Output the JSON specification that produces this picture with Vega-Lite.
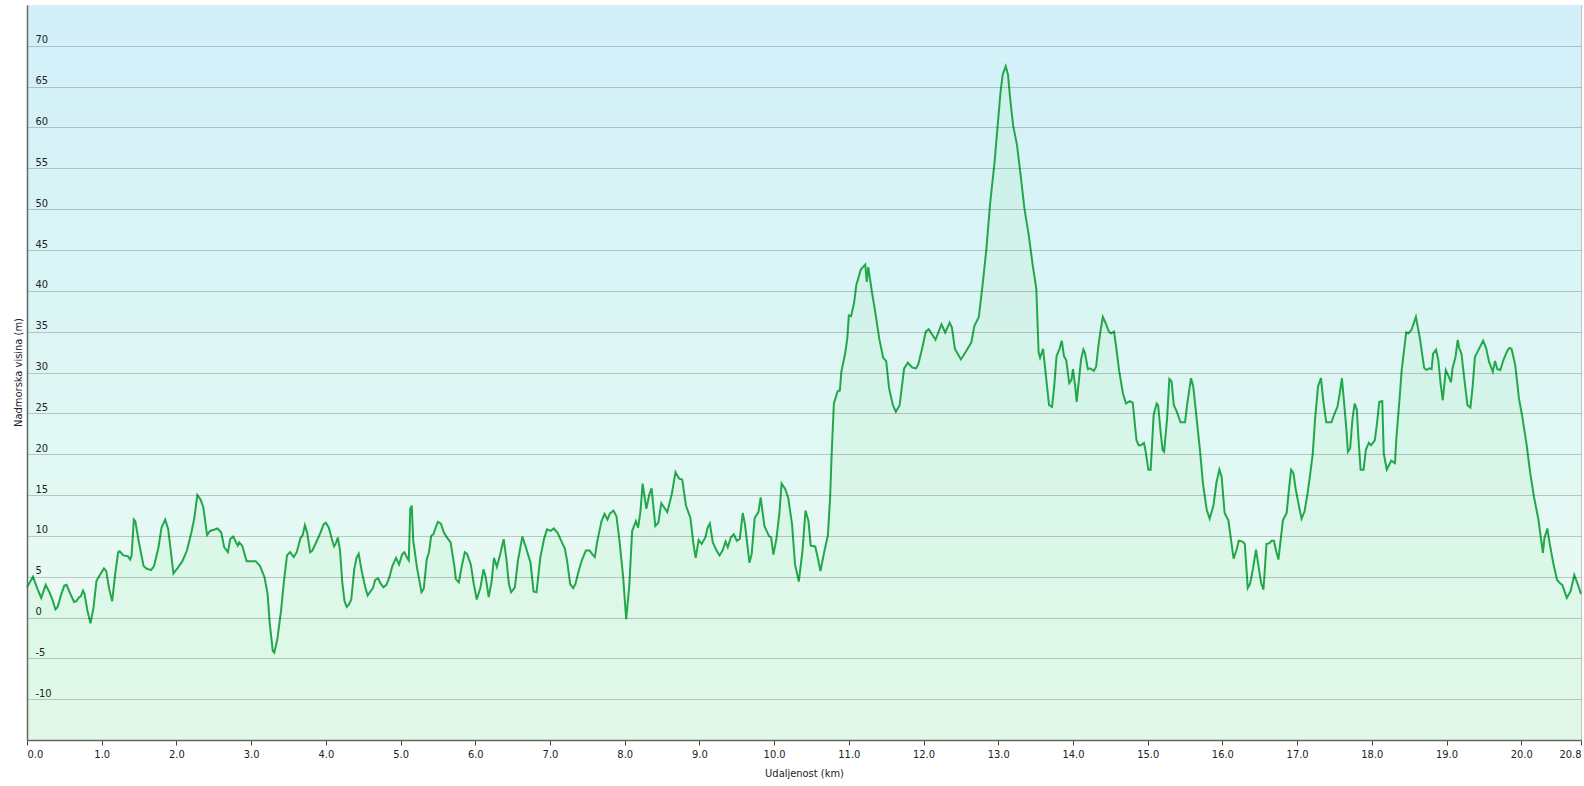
{
  "$schema": "https://vega.github.io/schema/vega-lite/v6.json",
  "autosize": {"type": "none"},
  "padding": {"left": 27, "top": 5, "right": 3, "bottom": 46},
  "width": 1554,
  "height": 735,
  "background": "#ffffff",
  "config": {
    "view": {"stroke": "#c4c4c4", "strokeWidth": 1, "fill": "#e1f5f5"},
    "font": "DejaVu Sans Condensed",
    "axis": {"labelFont": "DejaVu Sans Condensed", "titleFont": "DejaVu Sans Condensed", "labelColor": "#222222", "titleColor": "#222222", "labelFontSize": 11, "titleFontSize": 11, "titleFontWeight": "normal"}
  },
  "datasets": {
    "bands": [
{"b0":-15,"b1":-10},{"b0":-10,"b1":-5},{"b0":-5,"b1":0},{"b0":0,"b1":5},{"b0":5,"b1":10},{"b0":10,"b1":15},{"b0":15,"b1":20},{"b0":20,"b1":25},{"b0":25,"b1":30},{"b0":30,"b1":35},{"b0":35,"b1":40},{"b0":40,"b1":45},{"b0":45,"b1":50},{"b0":50,"b1":55},{"b0":55,"b1":60},{"b0":60,"b1":65},{"b0":65,"b1":70},{"b0":70,"b1":75}
    ],
    "profile": [
{"d":0.0,"h":3.7},{"d":0.08,"h":5.0},{"d":0.14,"h":3.5},{"d":0.19,"h":2.4},{"d":0.25,"h":4.0},{"d":0.30,"h":3.1},{"d":0.34,"h":2.2},{"d":0.38,"h":1.0},{"d":0.41,"h":1.3},{"d":0.46,"h":2.9},{"d":0.50,"h":3.9},{"d":0.53,"h":4.0},{"d":0.57,"h":3.1},{"d":0.63,"h":1.9},{"d":0.66,"h":2.0},{"d":0.70,"h":2.5},{"d":0.72,"h":2.6},{"d":0.75,"h":3.3},{"d":0.77,"h":2.9},{"d":0.81,"h":0.8},{"d":0.85,"h":-0.7},{"d":0.89,"h":1.2},{"d":0.93,"h":4.5},{"d":0.97,"h":5.1},{"d":1.03,"h":6.0},{"d":1.06,"h":5.7},{"d":1.10,"h":3.5},{"d":1.14,"h":2.0},{"d":1.18,"h":5.3},{"d":1.22,"h":8.0},{"d":1.24,"h":8.1},{"d":1.29,"h":7.6},{"d":1.35,"h":7.5},{"d":1.38,"h":7.1},{"d":1.40,"h":7.6},{"d":1.43,"h":12.0},{"d":1.45,"h":11.8},{"d":1.49,"h":9.6},{"d":1.56,"h":6.3},{"d":1.60,"h":6.0},{"d":1.66,"h":5.8},{"d":1.70,"h":6.3},{"d":1.76,"h":8.6},{"d":1.80,"h":11.0},{"d":1.85,"h":12.0},{"d":1.89,"h":10.8},{"d":1.96,"h":5.4},{"d":2.02,"h":6.1},{"d":2.08,"h":6.9},{"d":2.14,"h":8.2},{"d":2.20,"h":10.4},{"d":2.24,"h":12.2},{"d":2.28,"h":15.0},{"d":2.32,"h":14.5},{"d":2.36,"h":13.5},{"d":2.41,"h":10.1},{"d":2.45,"h":10.6},{"d":2.52,"h":10.8},{"d":2.55,"h":10.9},{"d":2.60,"h":10.4},{"d":2.64,"h":8.6},{"d":2.69,"h":8.0},{"d":2.72,"h":9.6},{"d":2.76,"h":9.9},{"d":2.82,"h":8.8},{"d":2.84,"h":9.2},{"d":2.88,"h":8.8},{"d":2.94,"h":6.9},{"d":3.01,"h":6.9},{"d":3.06,"h":6.9},{"d":3.12,"h":6.3},{"d":3.18,"h":4.9},{"d":3.22,"h":2.9},{"d":3.25,"h":-0.8},{"d":3.29,"h":-4.1},{"d":3.31,"h":-4.3},{"d":3.35,"h":-2.7},{"d":3.40,"h":0.8},{"d":3.44,"h":4.5},{"d":3.48,"h":7.6},{"d":3.52,"h":8.0},
{"d":3.57,"h":7.4},{"d":3.61,"h":8.0},{"d":3.66,"h":9.7},{"d":3.69,"h":10.1},{"d":3.72,"h":11.3},{"d":3.75,"h":10.4},{"d":3.79,"h":8.0},{"d":3.82,"h":8.2},{"d":3.88,"h":9.4},{"d":3.92,"h":10.2},{"d":3.97,"h":11.4},{"d":4.00,"h":11.6},{"d":4.04,"h":11.0},{"d":4.08,"h":9.6},{"d":4.11,"h":8.7},{"d":4.13,"h":9.0},{"d":4.16,"h":9.8},{"d":4.19,"h":8.2},{"d":4.22,"h":4.3},{"d":4.25,"h":2.0},{"d":4.28,"h":1.3},{"d":4.31,"h":1.6},{"d":4.34,"h":2.2},{"d":4.38,"h":5.9},{"d":4.41,"h":7.3},{"d":4.44,"h":7.8},{"d":4.48,"h":5.7},{"d":4.53,"h":3.6},{"d":4.56,"h":2.7},{"d":4.59,"h":3.1},{"d":4.63,"h":3.6},{"d":4.66,"h":4.6},{"d":4.70,"h":4.8},{"d":4.73,"h":4.2},{"d":4.77,"h":3.7},{"d":4.81,"h":4.0},{"d":4.85,"h":4.9},{"d":4.89,"h":6.3},{"d":4.94,"h":7.3},{"d":4.98,"h":6.5},{"d":5.02,"h":7.7},{"d":5.05,"h":8.0},{"d":5.09,"h":7.3},{"d":5.11,"h":7.0},{"d":5.13,"h":13.3},{"d":5.15,"h":13.7},{"d":5.17,"h":9.4},{"d":5.22,"h":6.1},{"d":5.28,"h":3.1},{"d":5.31,"h":3.5},{"d":5.35,"h":7.1},{"d":5.38,"h":8.0},{"d":5.41,"h":10.0},{"d":5.44,"h":10.2},{"d":5.47,"h":11.0},{"d":5.50,"h":11.7},{"d":5.54,"h":11.5},{"d":5.58,"h":10.4},{"d":5.62,"h":9.8},{"d":5.67,"h":9.2},{"d":5.72,"h":6.3},{"d":5.74,"h":4.7},{"d":5.78,"h":4.3},{"d":5.82,"h":6.3},{"d":5.86,"h":8.0},{"d":5.89,"h":7.8},{"d":5.94,"h":6.5},{"d":5.98,"h":4.1},{"d":6.02,"h":2.2},{"d":6.07,"h":3.7},{"d":6.11,"h":5.9},{"d":6.14,"h":4.9},{"d":6.18,"h":2.5},{"d":6.22,"h":4.5},{"d":6.25,"h":7.3},{"d":6.29,"h":6.2},{"d":6.34,"h":8.0},{"d":6.38,"h":9.6},{"d":6.42,"h":6.9},{"d":6.45,"h":4.1},{"d":6.48,"h":3.1},{"d":6.53,"h":3.7},{"d":6.57,"h":6.9},{"d":6.63,"h":9.9},{"d":6.67,"h":8.8},{"d":6.74,"h":6.7},{"d":6.78,"h":3.2},{"d":6.82,"h":3.1},{"d":6.87,"h":7.3},{"d":6.92,"h":9.6},{"d":6.96,"h":10.8},{"d":7.01,"h":10.6},
{"d":7.05,"h":10.9},{"d":7.10,"h":10.4},{"d":7.14,"h":9.6},{"d":7.20,"h":8.4},{"d":7.23,"h":6.9},{"d":7.27,"h":4.1},{"d":7.31,"h":3.6},{"d":7.34,"h":4.1},{"d":7.39,"h":5.9},{"d":7.43,"h":7.1},{"d":7.48,"h":8.2},{"d":7.53,"h":8.2},{"d":7.57,"h":7.7},{"d":7.60,"h":7.4},{"d":7.63,"h":9.2},{"d":7.69,"h":11.8},{"d":7.73,"h":12.7},{"d":7.77,"h":12.0},{"d":7.80,"h":12.7},{"d":7.85,"h":13.1},{"d":7.89,"h":12.4},{"d":7.93,"h":9.4},{"d":7.98,"h":4.9},{"d":8.02,"h":-0.2},{"d":8.06,"h":3.7},{"d":8.10,"h":10.6},{"d":8.15,"h":11.8},{"d":8.18,"h":11.0},{"d":8.21,"h":12.9},{"d":8.24,"h":16.4},{"d":8.29,"h":13.3},{"d":8.33,"h":15.1},{"d":8.36,"h":15.8},{"d":8.41,"h":11.2},{"d":8.45,"h":11.6},{"d":8.49,"h":14.0},{"d":8.57,"h":12.9},{"d":8.63,"h":15.1},{"d":8.68,"h":17.8},{"d":8.73,"h":17.0},{"d":8.77,"h":16.9},{"d":8.82,"h":13.7},{"d":8.88,"h":12.2},{"d":8.92,"h":9.0},{"d":8.95,"h":7.3},{"d":8.99,"h":9.5},{"d":9.03,"h":9.0},{"d":9.08,"h":9.8},{"d":9.11,"h":11.0},{"d":9.14,"h":11.5},{"d":9.18,"h":9.2},{"d":9.23,"h":8.2},{"d":9.27,"h":7.6},{"d":9.31,"h":8.2},{"d":9.35,"h":9.3},{"d":9.38,"h":8.6},{"d":9.42,"h":9.8},{"d":9.46,"h":10.2},{"d":9.50,"h":9.4},{"d":9.54,"h":9.6},{"d":9.58,"h":12.8},{"d":9.61,"h":11.4},{"d":9.67,"h":6.7},{"d":9.70,"h":7.8},{"d":9.74,"h":12.2},{"d":9.79,"h":12.9},{"d":9.82,"h":14.7},{"d":9.87,"h":11.2},{"d":9.93,"h":10.0},{"d":9.96,"h":9.8},{"d":9.99,"h":7.7},{"d":10.03,"h":9.6},{"d":10.07,"h":12.7},{"d":10.10,"h":16.4},{"d":10.15,"h":15.7},{"d":10.19,"h":14.6},{"d":10.24,"h":11.4},{"d":10.28,"h":6.5},{"d":10.33,"h":4.4},{"d":10.38,"h":8.2},{"d":10.42,"h":13.1},
{"d":10.46,"h":11.8},{"d":10.49,"h":8.8},{"d":10.55,"h":8.7},{"d":10.58,"h":7.5},{"d":10.62,"h":5.7},{"d":10.67,"h":8.0},{"d":10.72,"h":10.1},{"d":10.75,"h":14.8},{"d":10.77,"h":20.0},{"d":10.80,"h":26.2},{"d":10.85,"h":27.7},{"d":10.88,"h":27.8},{"d":10.90,"h":30.1},{"d":10.95,"h":32.3},{"d":10.98,"h":34.2},{"d":11.00,"h":37.0},{"d":11.03,"h":36.9},{"d":11.07,"h":38.5},{"d":11.10,"h":40.7},{"d":11.16,"h":42.6},{"d":11.22,"h":43.2},{"d":11.24,"h":41.1},{"d":11.26,"h":42.9},{"d":11.31,"h":39.8},{"d":11.35,"h":37.6},{"d":11.41,"h":34.0},{"d":11.46,"h":31.8},{"d":11.50,"h":31.4},{"d":11.54,"h":28.0},{"d":11.59,"h":26.0},{"d":11.63,"h":25.2},{"d":11.68,"h":26.0},{"d":11.74,"h":30.5},{"d":11.79,"h":31.2},{"d":11.85,"h":30.6},{"d":11.90,"h":30.5},{"d":11.93,"h":31.0},{"d":11.98,"h":32.9},{"d":12.03,"h":35.0},{"d":12.07,"h":35.3},{"d":12.16,"h":34.0},{"d":12.24,"h":35.9},{"d":12.29,"h":34.9},{"d":12.35,"h":36.1},{"d":12.38,"h":35.5},{"d":12.42,"h":32.9},{"d":12.50,"h":31.6},{"d":12.57,"h":32.6},{"d":12.64,"h":33.7},{"d":12.68,"h":35.7},{"d":12.74,"h":36.8},{"d":12.79,"h":40.7},{"d":12.84,"h":45.0},{"d":12.89,"h":50.6},{"d":12.95,"h":55.7},{"d":12.99,"h":60.0},{"d":13.03,"h":64.3},{"d":13.06,"h":66.5},{"d":13.10,"h":67.5},{"d":13.13,"h":66.5},{"d":13.16,"h":63.5},{"d":13.20,"h":60.2},{"d":13.25,"h":57.9},{"d":13.29,"h":54.9},{"d":13.35,"h":50.1},{"d":13.41,"h":46.7},{"d":13.46,"h":43.2},{"d":13.51,"h":40.2},{"d":13.54,"h":32.5},{"d":13.56,"h":31.8},{"d":13.60,"h":32.9},{"d":13.63,"h":30.3},{"d":13.68,"h":26.0},{"d":13.72,"h":25.8},{"d":13.75,"h":28.4},{"d":13.78,"h":32.0},{"d":13.82,"h":32.9},{"d":13.85,"h":33.9},{"d":13.88,"h":32.0},
{"d":13.91,"h":31.5},{"d":13.95,"h":28.7},{"d":13.98,"h":29.1},{"d":14.00,"h":30.4},{"d":14.03,"h":28.3},{"d":14.05,"h":26.4},{"d":14.08,"h":29.1},{"d":14.11,"h":31.7},{"d":14.14,"h":32.8},{"d":14.16,"h":32.4},{"d":14.20,"h":30.4},{"d":14.23,"h":30.5},{"d":14.28,"h":30.2},{"d":14.31,"h":30.7},{"d":14.34,"h":33.2},{"d":14.37,"h":35.2},{"d":14.40,"h":36.8},{"d":14.44,"h":36.0},{"d":14.48,"h":35.0},{"d":14.51,"h":34.8},{"d":14.55,"h":35.0},{"d":14.58,"h":33.0},{"d":14.62,"h":30.1},{"d":14.67,"h":27.4},{"d":14.71,"h":26.2},{"d":14.76,"h":26.5},{"d":14.80,"h":26.3},{"d":14.85,"h":21.7},{"d":14.88,"h":21.1},{"d":14.91,"h":21.1},{"d":14.95,"h":21.4},{"d":14.97,"h":20.5},{"d":15.01,"h":18.1},{"d":15.04,"h":18.1},{"d":15.08,"h":24.8},{"d":15.12,"h":26.2},{"d":15.14,"h":26.0},{"d":15.17,"h":23.0},{"d":15.20,"h":20.5},{"d":15.22,"h":20.3},{"d":15.26,"h":24.4},{"d":15.29,"h":29.2},{"d":15.32,"h":28.9},{"d":15.35,"h":26.0},{"d":15.39,"h":25.2},{"d":15.44,"h":23.9},{"d":15.50,"h":23.9},{"d":15.53,"h":26.2},{"d":15.58,"h":29.3},{"d":15.61,"h":28.3},{"d":15.65,"h":24.8},{"d":15.70,"h":20.5},{"d":15.74,"h":16.4},{"d":15.79,"h":13.2},{"d":15.83,"h":12.1},{"d":15.88,"h":13.7},{"d":15.92,"h":16.5},{"d":15.96,"h":18.1},{"d":15.99,"h":17.2},{"d":16.03,"h":12.8},{"d":16.08,"h":11.9},{"d":16.11,"h":9.9},{"d":16.15,"h":7.2},{"d":16.19,"h":8.3},{"d":16.22,"h":9.4},{"d":16.27,"h":9.3},{"d":16.30,"h":9.0},{"d":16.34,"h":3.6},{"d":16.37,"h":4.1},{"d":16.41,"h":6.0},{"d":16.45,"h":8.3},{"d":16.49,"h":5.9},{"d":16.52,"h":4.2},{"d":16.55,"h":3.4},{"d":16.59,"h":9.0},{"d":16.63,"h":9.1},{"d":16.66,"h":9.4},{"d":16.69,"h":9.4},{"d":16.72,"h":8.1},{"d":16.75,"h":7.1},{"d":16.78,"h":9.5},{"d":16.81,"h":11.9},{"d":16.86,"h":12.8},{"d":16.89,"h":15.6},{"d":16.92,"h":18.1},{"d":16.95,"h":17.7},{"d":16.98,"h":15.8},{"d":17.03,"h":13.4},{"d":17.06,"h":12.1},{"d":17.10,"h":13.0},{"d":17.14,"h":15.2},{"d":17.17,"h":17.2},{"d":17.21,"h":20.1},{"d":17.24,"h":24.2},{"d":17.28,"h":28.3},{"d":17.32,"h":29.3},{"d":17.35,"h":26.6},{"d":17.39,"h":23.9},
{"d":17.46,"h":23.9},{"d":17.49,"h":24.7},{"d":17.54,"h":25.8},{"d":17.57,"h":27.4},{"d":17.60,"h":29.3},{"d":17.63,"h":26.2},{"d":17.66,"h":23.0},{"d":17.68,"h":20.3},{"d":17.71,"h":20.7},{"d":17.74,"h":24.2},{"d":17.77,"h":26.2},{"d":17.80,"h":25.4},{"d":17.82,"h":22.1},{"d":17.85,"h":18.1},{"d":17.89,"h":18.1},{"d":17.92,"h":20.5},{"d":17.96,"h":21.4},{"d":17.99,"h":21.1},{"d":18.04,"h":21.7},{"d":18.07,"h":23.8},{"d":18.10,"h":26.4},{"d":18.14,"h":26.5},{"d":18.16,"h":20.1},{"d":18.20,"h":18.1},{"d":18.26,"h":19.2},{"d":18.31,"h":18.9},{"d":18.33,"h":22.1},{"d":18.37,"h":26.6},{"d":18.40,"h":30.3},{"d":18.46,"h":34.9},{"d":18.49,"h":34.8},{"d":18.53,"h":35.2},{"d":18.59,"h":36.8},{"d":18.64,"h":34.4},{"d":18.70,"h":30.6},{"d":18.73,"h":30.3},{"d":18.77,"h":30.5},{"d":18.80,"h":30.4},{"d":18.82,"h":32.3},{"d":18.86,"h":32.8},{"d":18.89,"h":31.5},{"d":18.92,"h":28.7},{"d":18.95,"h":26.6},{"d":18.99,"h":30.3},{"d":19.03,"h":29.5},{"d":19.06,"h":28.8},{"d":19.08,"h":30.5},{"d":19.12,"h":31.9},{"d":19.15,"h":34.0},{"d":19.17,"h":33.0},{"d":19.20,"h":32.3},{"d":19.24,"h":29.1},{"d":19.28,"h":26.0},{"d":19.32,"h":25.7},{"d":19.35,"h":28.3},{"d":19.38,"h":31.9},{"d":19.43,"h":32.8},{"d":19.49,"h":33.9},{"d":19.53,"h":33.0},{"d":19.57,"h":31.3},{"d":19.62,"h":30.1},{"d":19.65,"h":31.4},{"d":19.68,"h":30.4},{"d":19.72,"h":30.3},{"d":19.76,"h":31.5},{"d":19.81,"h":32.6},{"d":19.84,"h":33.0},{"d":19.87,"h":32.9},{"d":19.92,"h":30.9},{"d":19.97,"h":26.8},{"d":20.01,"h":24.8},{"d":20.07,"h":21.3},{"d":20.12,"h":17.7},{"d":20.17,"h":14.8},{"d":20.23,"h":12.0},{"d":20.29,"h":7.9},{"d":20.31,"h":9.7},{"d":20.35,"h":10.9},{"d":20.38,"h":9.1},{"d":20.43,"h":6.6},{"d":20.48,"h":4.6},{"d":20.52,"h":4.2},{"d":20.55,"h":4.0},{"d":20.58,"h":3.2},{"d":20.61,"h":2.4},{"d":20.66,"h":3.2},{"d":20.71,"h":5.2},{"d":20.76,"h":4.0},{"d":20.8,"h":2.9}
    ]
  },
  "layer": [
    {
      "data": {"name": "bands"},
      "mark": {"type": "rect", "strokeWidth": 0},
      "encoding": {
        "x": {"datum": 0, "type": "quantitative", "scale": {"domain": [0, 20.8], "nice": false, "zero": false}},
        "x2": {"datum": 20.8},
        "y": {"field": "b1", "type": "quantitative", "scale": {"domain": [-15, 75], "nice": false, "zero": false}},
        "y2": {"field": "b0"},
        "fill": {"field": "b0", "type": "quantitative", "scale": {"domain": [-15, 70], "range": ["#eefcf3", "#d3eff9"]}, "legend": null}
      }
    },
    {
      "data": {"name": "profile"},
      "mark": {"type": "area", "color": "#b6efc2", "opacity": 0.22},
      "encoding": {
        "x": {"field": "d", "type": "quantitative"},
        "y": {"field": "h", "type": "quantitative"},
        "y2": {"datum": -15}
      }
    },
    {
      "data": {"name": "profile"},
      "mark": {"type": "line", "color": "#22a84a", "strokeWidth": 2},
      "encoding": {
        "x": {
          "field": "d", "type": "quantitative",
          "axis": {
            "title": "Udaljenost  (km)",
            "values": [0,1,2,3,4,5,6,7,8,9,10,11,12,13,14,15,16,17,18,19,20,20.8],
            "format": ".1f",
            "grid": false,
            "labelFlush": true,
            "labelOverlap": false,
            "tickSize": 5, "tickColor": "#444444", "tickWidth": 1,
            "domainColor": "#666666", "domainWidth": 1.5,
            "labelPadding": 3,
            "titlePadding": 8,
            "zindex": 1
          }
        },
        "y": {
          "field": "h", "type": "quantitative",
          "axis": {
            "title": "Nadmorska visina (m)",
            "values": [-10,-5,0,5,10,15,20,25,30,35,40,45,50,55,60,65,70],
            "labelExpr": "'' + datum.value",
            "grid": true, "gridColor": "#000000", "gridOpacity": 0.2, "gridWidth": 1,
            "ticks": false, "tickSize": 0,
            "labelAlign": "left", "labelPadding": -8, "labelBaseline": "alphabetic", "labelOffset": -3,
            "domainColor": "#666666", "domainWidth": 1.5,
            "titleX": -9, "titleY": 367, "titleAngle": 270, "titleBaseline": "middle", "titleAlign": "center",
            "zindex": 1
          }
        }
      }
    }
  ]
}
